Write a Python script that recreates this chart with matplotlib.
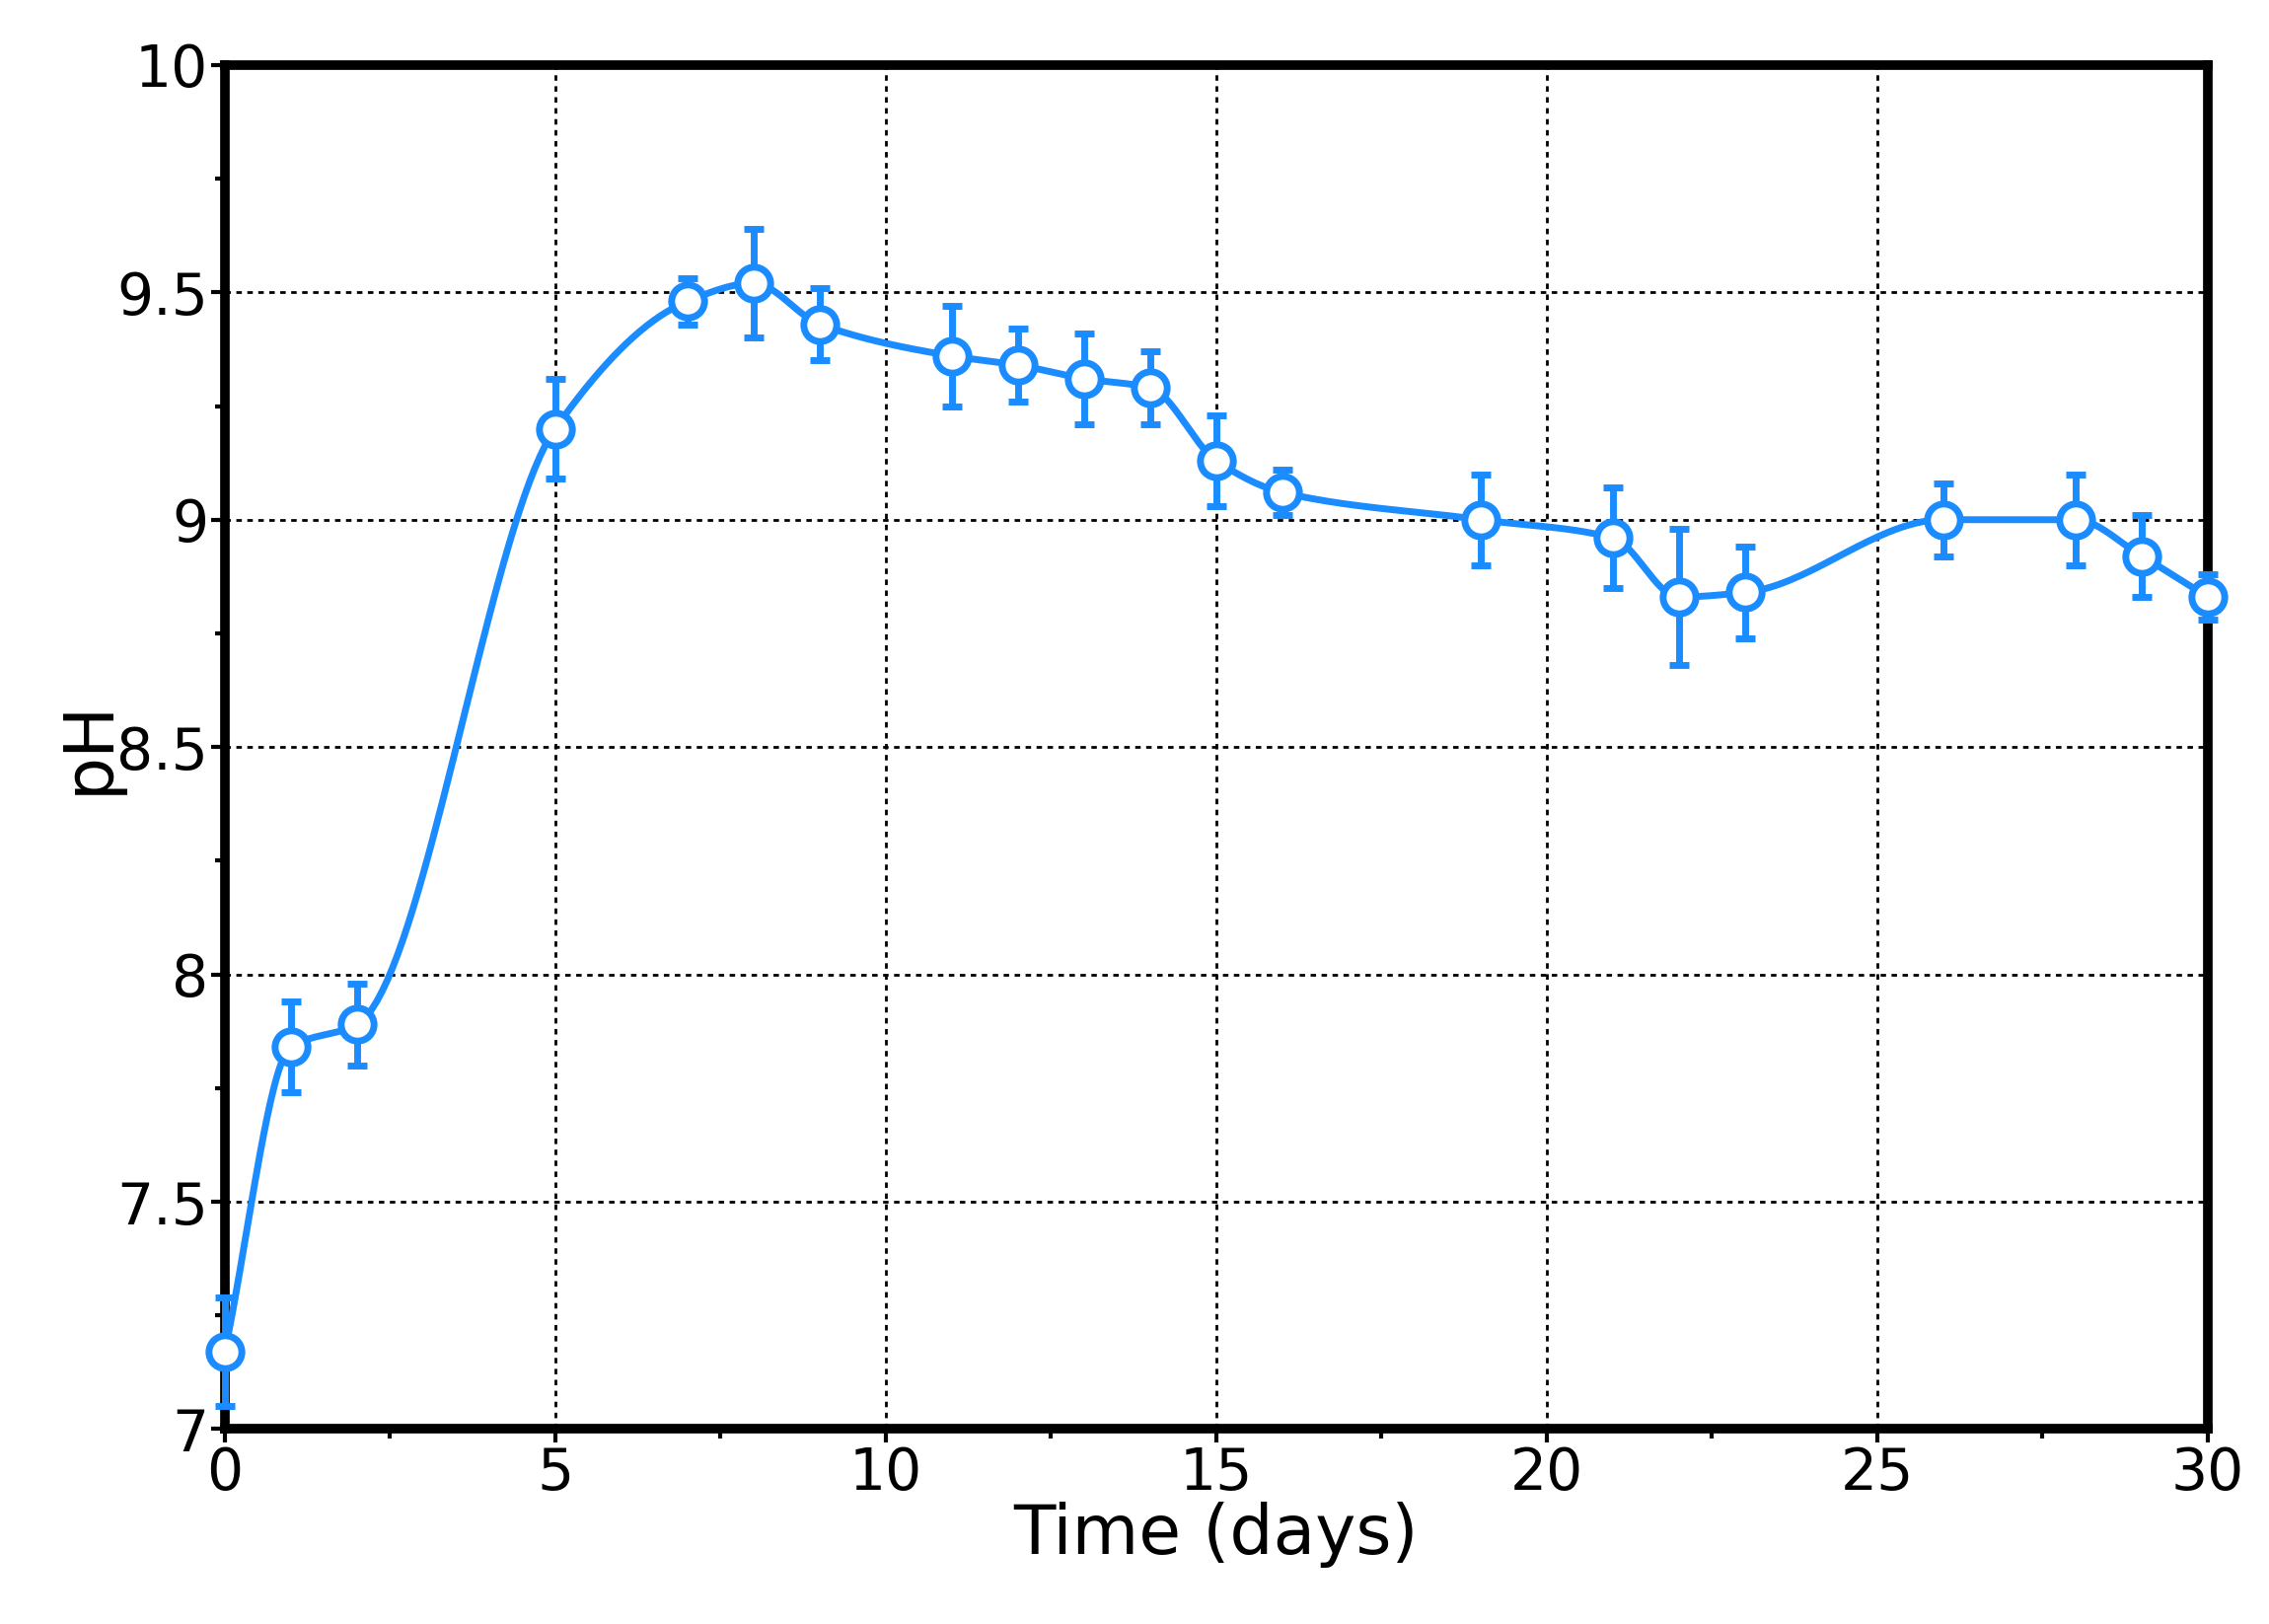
import numpy as np
import matplotlib
matplotlib.use("Agg")
import matplotlib.pyplot as plt
from matplotlib.ticker import MultipleLocator

days = [0, 1, 2, 5, 7, 8, 9, 11, 12, 13, 14, 15, 16, 19, 21, 22, 23, 26, 28, 29, 30]
ph = [7.17, 7.84, 7.89, 9.20, 9.48, 9.52, 9.43, 9.36, 9.34, 9.31, 9.29, 9.13, 9.06, 9.00, 8.96, 8.83, 8.84, 9.00, 9.00, 8.92, 8.83]
err = [0.12, 0.10, 0.09, 0.11, 0.05, 0.12, 0.08, 0.11, 0.08, 0.10, 0.08, 0.10, 0.05, 0.10, 0.11, 0.15, 0.10, 0.08, 0.10, 0.09, 0.05]

color = '#1a8cff'
x = np.array(days, float); y = np.array(ph, float)
d = np.diff(y) / np.diff(x)
m = np.zeros_like(y)
for i in range(1, len(y) - 1):
    if d[i-1] * d[i] > 0:
        w1 = 2*(x[i+1]-x[i]) + (x[i]-x[i-1]); w2 = (x[i+1]-x[i]) + 2*(x[i]-x[i-1])
        m[i] = (w1 + w2) / (w1/d[i-1] + w2/d[i])
    elif d[i-1] == 0 and d[i] == 0:
        m[i] = 0
    else:
        m[i] = 0.4 * (d[i-1] + d[i]) / 2 if abs(d[i-1]) + abs(d[i]) < 0.05 else 0
m[0] = d[0]; m[-1] = d[-1]
xs, ys = [], []
for i in range(len(x) - 1):
    h = x[i+1] - x[i]
    t = np.linspace(0, 1, 40)
    h00 = 2*t**3 - 3*t**2 + 1; h10 = t**3 - 2*t**2 + t
    h01 = -2*t**3 + 3*t**2; h11 = t**3 - t**2
    xs.append(x[i] + t*h)
    ys.append(h00*y[i] + h10*h*m[i] + h01*y[i+1] + h11*h*m[i+1])
xs = np.concatenate(xs); ys = np.concatenate(ys)

fig = plt.figure(figsize=(23, 16.46), dpi=100)
ax = fig.add_axes([0.099, 0.12, 0.874, 0.84])
ax.plot(xs, ys, color=color, lw=5, zorder=3)
ax.errorbar(days, ph, yerr=err, fmt='o', color=color, mfc='white', mec=color,
            ms=24, mew=5, elinewidth=5, capsize=7, capthick=5, zorder=4, clip_on=False)
ax.set_xlim(0, 30); ax.set_ylim(7, 10)
ax.xaxis.set_major_locator(MultipleLocator(5)); ax.xaxis.set_minor_locator(MultipleLocator(2.5))
ax.yaxis.set_major_locator(MultipleLocator(0.5)); ax.yaxis.set_minor_locator(MultipleLocator(0.25))
ax.set_yticks([7, 7.5, 8, 8.5, 9, 9.5, 10]); ax.set_yticklabels(['7', '7.5', '8', '8.5', '9', '9.5', '10'])
ax.grid(True, which='major', color='black', ls=(0, (2, 2)), lw=2)
for s in ax.spines.values():
    s.set_linewidth(7)
ax.tick_params(which='both', direction='out', labelsize=42, width=3, pad=2)
ax.tick_params(which='major', length=10)
ax.tick_params(which='minor', length=7)
ax.set_xlabel('Time (days)', fontsize=50, labelpad=0)
ax.set_ylabel('pH', fontsize=50, labelpad=-4)
fig.savefig('out.png', dpi=100)
